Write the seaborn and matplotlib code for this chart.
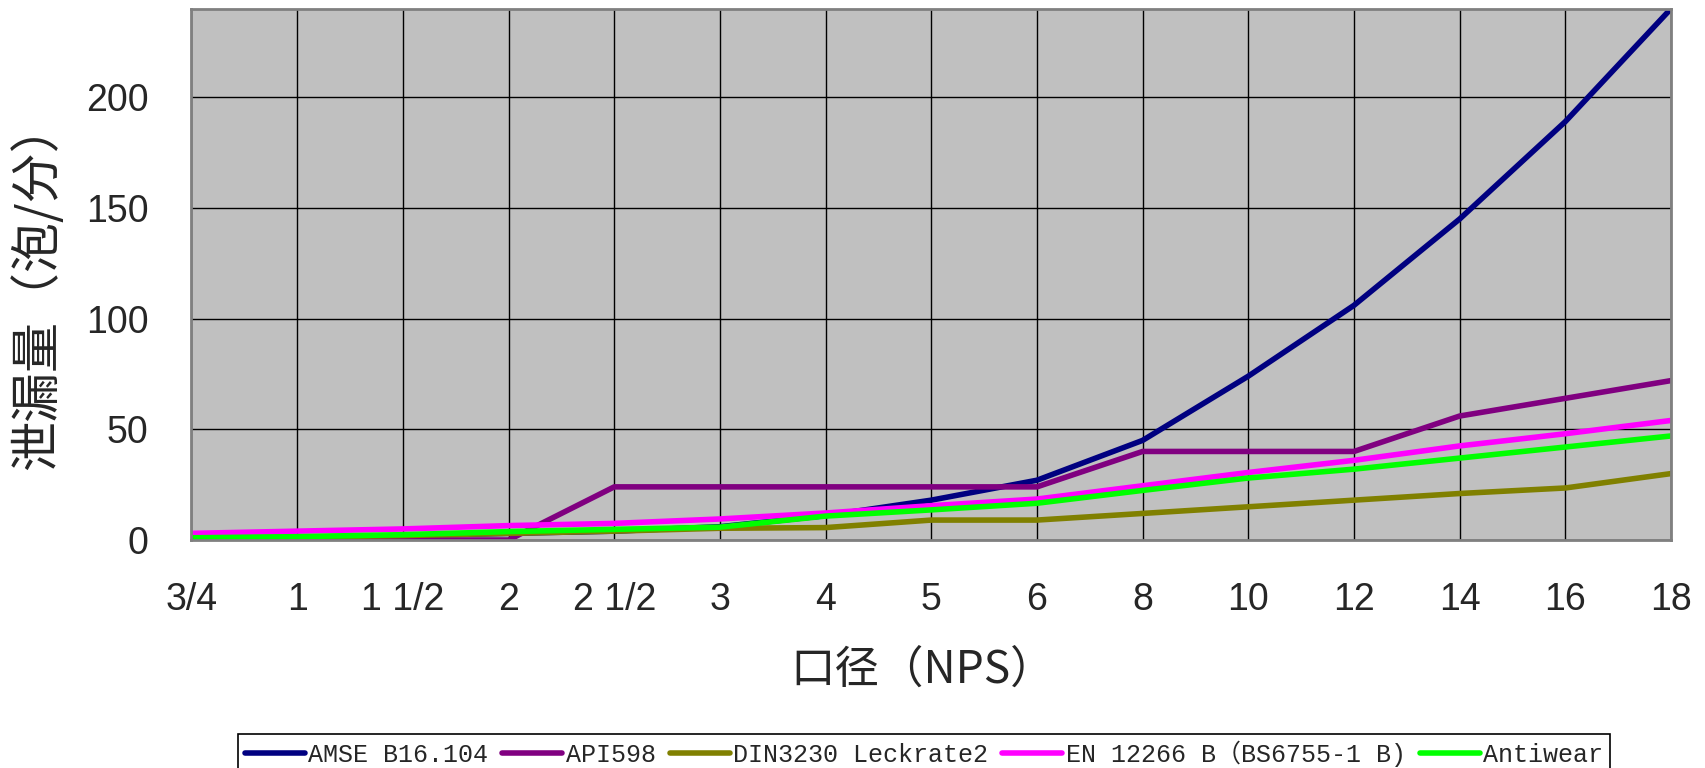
import numpy as np
import pandas as pd
import matplotlib
matplotlib.use("Agg")
import matplotlib.pyplot as plt
from matplotlib import font_manager
from matplotlib.lines import Line2D
import seaborn as sns

# valve size (NPS) and leakage in bubbles per minute
sizes = ["3/4", "1", "1 1/2", "2", "2 1/2", "3", "4", "5", "6", "8", "10", "12", "14", "16", "18"]
amse = [1, 1, 2, 3, 4, 6, 11, 18, 27, 45, 74, 106, 145, 189, 240]
api = [0, 0, 0, 0, 24, 24, 24, 24, 24, 40, 40, 40, 56, 64, 72]
din = [1, 1.3, 2, 3, 4, 5.3, 5.6, 9, 9, 12, 15, 18, 21, 23.5, 30]
en = [3, 4, 5, 6.5, 7.5, 9.5, 12.2, 15.5, 18.5, 24.5, 30.5, 36, 42.5, 48, 54]
anti = [1, 1.5, 2.4, 3.8, 4.8, 5.8, 10.8, 13.6, 16.6, 22.4, 28, 32, 37, 42, 47]

names = ["AMSE B16.104", "API598", "DIN3230 Leckrate2", "EN 12266 B（BS6755-1 B)", "Antiwear"]
colors = ["#000080", "#800080", "#808000", "#FF00FF", "#00FF00"]

df = pd.DataFrame({
    "size": sizes * 5,
    "leak": amse + api + din + en + anti,
    "series": np.repeat(names, len(sizes)),
})
df["pos"] = df["size"].map({s: i for i, s in enumerate(sizes)})

installed = {f.name for f in font_manager.fontManager.ttflist}
narrow = "Liberation Sans Narrow" if "Liberation Sans Narrow" in installed else "Liberation Sans"

sns.set_style("white")
plt.rcParams["font.family"] = ["Liberation Sans", "Noto Sans CJK SC"]

fig = plt.figure(figsize=(17.06, 7.68), dpi=100)
ax = fig.add_axes([191.5 / 1706, 1 - 540 / 768, (1671 - 191.5) / 1706, (540 - 8.7) / 768])
ax.set_facecolor("#C0C0C0")

sns.lineplot(data=df, x="pos", y="leak", hue="series", hue_order=names,
             palette=dict(zip(names, colors)), linewidth=4, legend=False, ax=ax)

ax.set_xlim(0, len(sizes) - 1)
ax.set_ylim(0, 240)
ax.set_xticks(range(len(sizes)))
ax.set_xticklabels(sizes, fontfamily=narrow, fontsize=27)
ax.set_yticks([0, 50, 100, 150, 200])
ax.set_yticklabels(["0", "50", "100", "150", "200"], fontsize=27)
ax.grid(True, color="black", linewidth=1)
ax.set_axisbelow(True)
for sp in ax.spines.values():
    sp.set_color("#808080")
    sp.set_linewidth(2)
ax.tick_params(axis="both", direction="in", length=6, color="#404040")
ax.tick_params(axis="x", pad=30)
ax.tick_params(axis="y", pad=31)

ax.set_xlabel("口径（NPS）", fontsize=32, family=["Noto Sans CJK SC"])
ax.xaxis.set_label_coords(0.494, -0.20)
ax.set_ylabel("泄漏量（泡/分）", fontsize=36, family=["Noto Sans CJK SC"])
ax.yaxis.set_label_coords(-0.086, 0.48)

handles = [Line2D([0], [0], color=c, linewidth=4) for c in colors]
leg = fig.legend(handles, names, loc="upper center", bbox_to_anchor=(924 / 1706, 1 - 734 / 768),
                 ncol=5, frameon=True, fancybox=False, edgecolor="black", framealpha=1,
                 borderpad=0.25, handlelength=2.4, handletextpad=0.15, columnspacing=0.55,
                 borderaxespad=0, prop={"family": ["Liberation Mono", "Noto Sans CJK SC"], "size": 18})
leg.get_frame().set_linewidth(1.2)

fig.savefig("out.png", dpi=100)
